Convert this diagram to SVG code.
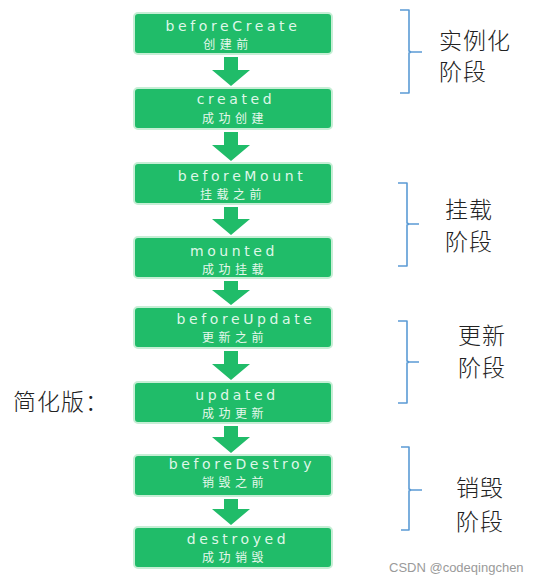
<svg xmlns="http://www.w3.org/2000/svg" width="544" height="584" viewBox="0 0 544 584">
<style>
.box{fill:#20bc69;stroke:#c6eed5;stroke-width:2}
.en{font-family:"DejaVu Sans",sans-serif;font-size:14px;fill:#dff7e8;letter-spacing:3.6px;text-anchor:middle}
.zh{font-family:"Noto Sans CJK SC",sans-serif;font-size:12px;fill:#e6f8ec;letter-spacing:4.5px;text-anchor:middle}
.arr{fill:#20bc69}
.br{fill:none;stroke:#5b9bd5;stroke-width:1.6;stroke-linejoin:round}
.lbl{font-family:"Noto Sans CJK SC",sans-serif;font-size:23px;fill:#222;font-weight:300;letter-spacing:1px}
.wm{font-family:"Liberation Sans",sans-serif;font-size:13px;fill:#9a9a9a}
</style>
<rect width="544" height="584" fill="#ffffff"/>
<g id="connectors">
<polygon class="arr" points="224,57 238,57 238,70 250,70 231,86 212,70 224,70"/>
<polygon class="arr" points="224,132 238,132 238,145 250,145 231,161 212,145 224,145"/>
<polygon class="arr" points="224,207 238,207 238,219 250,219 231,235 212,219 224,219"/>
<polygon class="arr" points="224,281 238,281 238,290 250,290 231,305 212,290 224,290"/>
<polygon class="arr" points="224,351 238,351 238,364 250,364 231,380 212,364 224,364"/>
<polygon class="arr" points="224,426 238,426 238,437 250,437 231,453 212,437 224,437"/>
<polygon class="arr" points="224,499 238,499 238,509 250,509 231,525 212,509 224,509"/>
</g>
<g id="beforeCreate">
<rect class="box" x="134" y="13" width="198" height="41" rx="4"/>
<text class="en" x="233" y="31">beforeCreate</text>
<text class="zh" x="228" y="49">创建前</text>
</g>
<g id="created">
<rect class="box" x="134" y="88" width="198" height="41" rx="4"/>
<text class="en" x="236" y="104">created</text>
<text class="zh" x="235" y="123">成功创建</text>
</g>
<g id="beforeMount">
<rect class="box" x="134" y="163" width="198" height="41" rx="4"/>
<text class="en" x="242" y="181">beforeMount</text>
<text class="zh" x="233" y="199">挂载之前</text>
</g>
<g id="mounted">
<rect class="box" x="134" y="237" width="198" height="41" rx="4"/>
<text class="en" x="234" y="256">mounted</text>
<text class="zh" x="235" y="274">成功挂载</text>
</g>
<g id="beforeUpdate">
<rect class="box" x="134" y="307" width="198" height="41" rx="4"/>
<text class="en" x="246" y="324">beforeUpdate</text>
<text class="zh" x="235" y="342">更新之前</text>
</g>
<g id="updated">
<rect class="box" x="134" y="382" width="198" height="41" rx="4"/>
<text class="en" x="237" y="400">updated</text>
<text class="zh" x="235" y="418">成功更新</text>
</g>
<g id="beforeDestroy">
<rect class="box" x="134" y="455" width="198" height="41" rx="4"/>
<text class="en" x="242" y="469">beforeDestroy</text>
<text class="zh" x="235" y="487">销毁之前</text>
</g>
<g id="destroyed">
<rect class="box" x="134" y="527" width="198" height="41" rx="4"/>
<text class="en" x="238" y="544">destroyed</text>
<text class="zh" x="235" y="562">成功销毁</text>
</g>
<g id="stage1">
<path class="br" d="M400,10 H409 V51 L411,52 H422 M411,52 L409,53 V93 H400"/>
<text class="lbl" x="439" y="49">实例化</text>
<text class="lbl" x="439" y="80">阶段</text>
</g>
<g id="stage2">
<path class="br" d="M398,183 H407 V223 L409,224 H419 M409,224 L407,225 V266 H398"/>
<text class="lbl" x="445" y="218">挂载</text>
<text class="lbl" x="445" y="250">阶段</text>
</g>
<g id="stage3">
<path class="br" d="M398,321 H407 V361 L409,362 H419 M409,362 L407,363 V403 H398"/>
<text class="lbl" x="458" y="344">更新</text>
<text class="lbl" x="458" y="376">阶段</text>
</g>
<g id="stage4">
<path class="br" d="M401,447 H409 V489 L411,490 H422 M411,490 L409,491 V530 H401"/>
<text class="lbl" x="456" y="496">销毁</text>
<text class="lbl" x="456" y="530">阶段</text>
</g>
<text class="lbl" x="13" y="410">简化版：</text>
<text class="wm" x="389" y="572">CSDN @codeqingchen</text>
</svg>
